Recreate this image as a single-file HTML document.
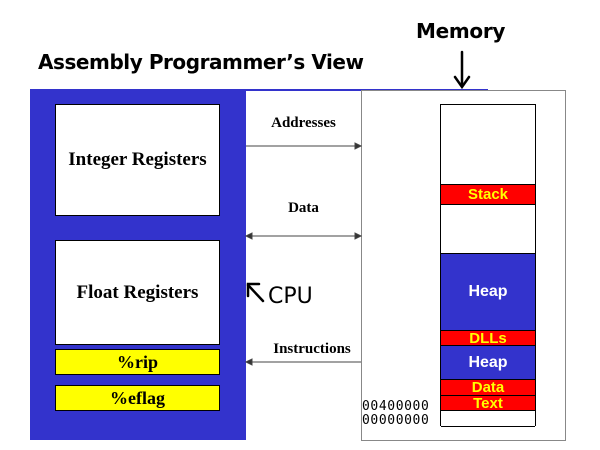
<!DOCTYPE html>
<html><head><style>
body{margin:0;width:600px;height:450px;background:#fff;position:relative;overflow:hidden;font-family:"Liberation Serif",serif}
.a{position:absolute;box-sizing:border-box}
.hw{font-family:"DejaVu Sans",sans-serif;font-weight:bold;color:#000}
.reg{background:#fff;border:1px solid #000;display:flex;align-items:center;justify-content:center;font-weight:bold;font-size:19px}
.yel{background:#ff0;border:1px solid #000;display:flex;align-items:center;justify-content:center;font-weight:bold;font-size:18px}
.seg{position:absolute;left:0;width:100%;box-sizing:border-box;border-bottom:1px solid #000;display:flex;align-items:center;justify-content:center;font-family:"Liberation Sans",sans-serif;font-weight:bold}
.r{background:#f00;color:#ff0;font-size:15px}
.b{background:#3333cc;color:#fff;font-size:16px}
.lbl{font-weight:bold;font-size:15px;text-align:center}
</style></head><body>
<div class="a hw" style="left:38px;top:50px;font-size:20px;letter-spacing:-0.45px">Assembly Programmer’s View</div>
<div class="a hw" style="left:416px;top:19px;font-size:20px;letter-spacing:-0.3px">Memory</div>
<div class="a" style="left:30px;top:89px;width:458px;height:2px;background:#3333cc"></div>
<div class="a" style="left:30px;top:90px;width:216px;height:350px;background:#3333cc"></div>
<div class="a reg" style="left:55px;top:104px;width:165px;height:112px">Integer Registers</div>
<div class="a reg" style="left:55px;top:240px;width:165px;height:105px">Float Registers</div>
<div class="a yel" style="left:55px;top:349px;width:165px;height:26px">%rip</div>
<div class="a yel" style="left:55px;top:385px;width:165px;height:26px">%eflag</div>
<div class="a" style="left:361px;top:90px;width:205px;height:351px;border:1px solid #888"></div>
<div class="a lbl" style="left:246px;top:115px;width:115px">Addresses</div>
<div class="a lbl" style="left:246px;top:200px;width:115px">Data</div>
<div class="a lbl" style="left:262px;top:341px;width:100px">Instructions</div>
<svg class="a" style="left:0;top:0" width="600" height="450">
<g stroke="#444" stroke-width="1" fill="#333">
<line x1="246" y1="146" x2="358" y2="146"/><polygon points="361,146 355,143 355,149"/>
<line x1="249" y1="236" x2="358" y2="236"/><polygon points="361,236 355,233 355,239"/><polygon points="246,236 252,233 252,239"/>
<line x1="249" y1="362" x2="361" y2="362"/><polygon points="246,362 252,359 252,365"/>
</g>
<g stroke="#000" stroke-width="2.5" fill="none" stroke-linecap="round">
<line x1="462" y1="52" x2="462" y2="86"/><polyline points="455,77 462,87 469,77"/>
<line x1="263" y1="301" x2="248" y2="285"/><polyline points="248,296 248,284 259,284"/>
</g>
</svg>
<div class="a hw" style="left:268px;top:284px;font-size:22px;font-weight:normal">CPU</div>
<div class="a" style="left:440px;top:104px;width:96px;height:322px;border:1px solid #000;border-bottom:none">
<div class="seg" style="top:0;height:80px;background:#fff"></div>
<div class="seg r" style="top:80px;height:20px">Stack</div>
<div class="seg" style="top:100px;height:49px;background:#fff"></div>
<div class="seg b" style="top:149px;height:77px">Heap</div>
<div class="seg r" style="top:226px;height:15px">DLLs</div>
<div class="seg b" style="top:241px;height:34px">Heap</div>
<div class="seg r" style="top:275px;height:16px">Data</div>
<div class="seg r" style="top:291px;height:15px">Text</div>
<div class="seg" style="top:306px;height:16px;background:#fff"></div>
</div>
<div class="a" style="left:362px;top:400px;font-family:'DejaVu Sans Mono',monospace;font-size:13px;line-height:14px;letter-spacing:0.6px">00400000<br>00000000</div>
</body></html>
